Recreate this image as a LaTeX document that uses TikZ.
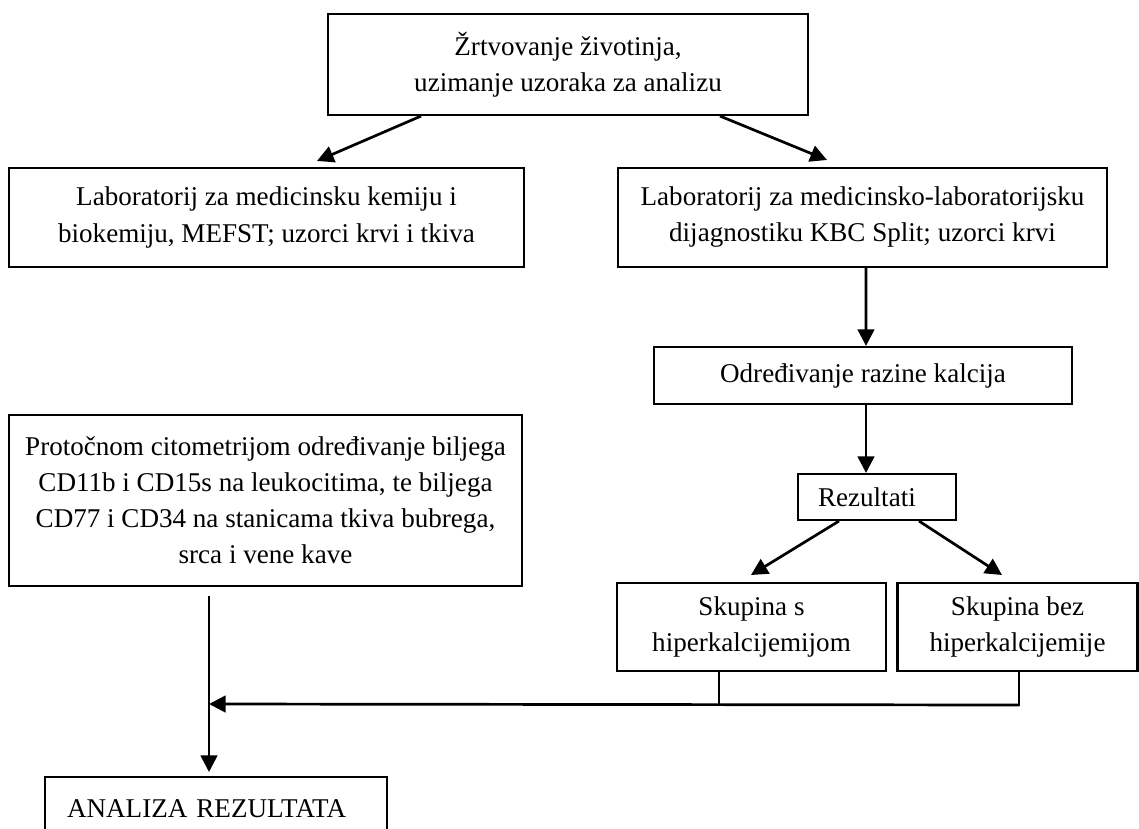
\documentclass[tikz,border=0pt]{standalone}
\usepackage{fontspec}
\setmainfont{Liberation Serif}
\usetikzlibrary{arrows.meta,calc}

\begin{document}
\begin{tikzpicture}[x=0.48pt,y=-0.48pt,
	box/.style={draw,line width=1pt,inner sep=0pt,align=center,font=\fontsize{13}{17.3}\selectfont},
	arr/.style={line width=1.3pt,-{Triangle[length=8pt,width=8pt]}},
	lin/.style={line width=1.3pt}]

		\useasboundingbox (0,0) rectangle (1139,828);

		\node[box,minimum width=230.4pt,minimum height=48.5pt] (b1) at ( 568.0, 64.5) {Žrtvovanje životinja,\\ uzimanje uzoraka za analizu};
		\node[box,minimum width=247.2pt,minimum height=47.5pt] (b2) at ( 266.5,217.5) {Laboratorij za medicinsku kemiju i\\ biokemiju, MEFST; uzorci krvi i tkiva};
		\node[box,minimum width=234.7pt,minimum height=47.5pt] (b3) at ( 862.5,217.5) {Laboratorij za medicinsko-laboratorijsku\\ dijagnostiku KBC Split; uzorci krvi};
		\node[box,minimum width=200.6pt,minimum height=27.4pt] (b4) at ( 863.0,375.5) {Određivanje razine kalcija};
		\node[box,text width=56.6pt,inner xsep=9.6pt,align=left,minimum height=22.1pt] (b5) at ( 877.0,497.0) {Rezultati};
		\node[box,minimum width=129.1pt,minimum height=42.2pt] (b6) at ( 751.5,627.0) {Skupina s\\ hiperkalcijemijom};
		\node[box,minimum width=115.2pt,minimum height=42.2pt] (b7) at (1017.5,627.0) {Skupina bez\\ hiperkalcijemije};
		\node[box,minimum width=246.2pt,minimum height=82.1pt] (b8) at ( 265.5,500.5) {Protočnom citometrijom određivanje biljega\\ CD11b i CD15s na leukocitima, te biljega\\ CD77 i CD34 na stanicama tkiva bubrega,\\ srca i vene kave};
		\node[box,text width=143pt,inner xsep=10.6pt,align=left,minimum height=30.2pt] (b9) at ( 216.0,808.5) {ANALIZA REZULTATA};

		\coordinate (j) at (209,704);

		\draw[arr] ($(b1.south)+(-147,0)$) -- ($(b2.north)+(50.5,-6)$);
		\draw[arr] ($(b1.south)+( 152,0)$) -- ($(b3.north)+(-35.5,-7)$);
		\draw[arr] ($(b3.south)+(3.5,0)$) -- ($(b4.north)+(3,0)$);
		\draw[arr] ($(b4.south)+(3,0)$) -- ($(b5.north)+(-11,0)$);
		\draw[arr] ($(b5.south)+(-38,0)$) -- ($(b6.north)+(-0.5,-7)$);
		\draw[arr] ($(b5.south)+( 42,0)$) -- ($(b7.north)+(-15.5,-7)$);

		\draw[lin] ($(b6.south)+(-32.5,0)$) -- ++(0,33) -| ($(b7.south)+(1.5,0)$);
		\draw[arr] ($(b7.south)+(1.5,33)$) -- (j);
		\draw[arr] ($(b8.south)+(-56.5,9)$) -- ($(b9.north)+(-7,-4)$);

	\end{tikzpicture}
\end{document}
